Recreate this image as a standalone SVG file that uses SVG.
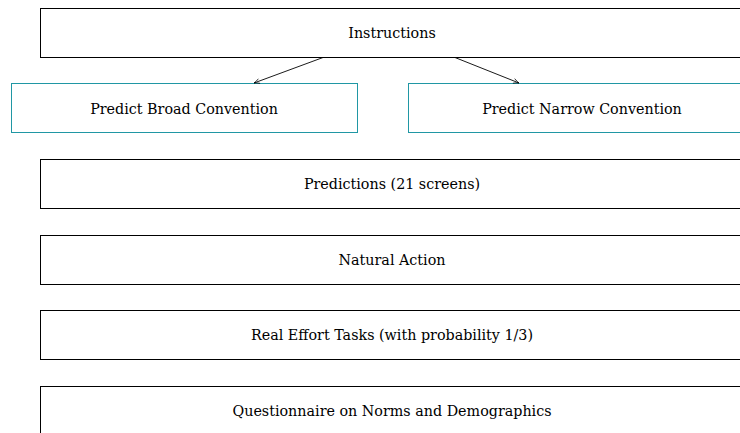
<svg xmlns="http://www.w3.org/2000/svg" width="740" height="433" viewBox="0 0 740 433">
<style>
.box{fill:#fff;stroke:#000;stroke-width:1}
.tbox{fill:#fff;stroke:#2097a4;stroke-width:1}
.lbl{font-family:'DejaVu Serif',serif;font-size:14.3px;fill:#000;text-anchor:middle}
.conn{stroke:#000;stroke-width:0.9;fill:none}
</style>
<defs>
<marker id="arr" viewBox="0 0 10 10" refX="9" refY="5" markerWidth="7" markerHeight="7" orient="auto" markerUnits="userSpaceOnUse">
<path d="M1,1.5 Q5,4 9,5 Q5,6 1,8.5" fill="none" stroke="#000" stroke-width="1"/>
</marker>
</defs>
<rect width="740" height="433" fill="#fff"/>
<g id="instructions"><rect class="box" x="40.5" y="8.5" width="704" height="49"/><text class="lbl" x="392" y="38">Instructions</text></g>
<g id="broad"><rect class="tbox" x="11.5" y="83.5" width="346" height="49"/><text class="lbl" x="184" y="114">Predict Broad Convention</text></g>
<g id="narrow"><rect class="tbox" x="408.5" y="83.5" width="348" height="49"/><text class="lbl" x="582" y="114">Predict Narrow Convention</text></g>
<g id="predictions"><rect class="box" x="40.5" y="159.5" width="704" height="49"/><text class="lbl" x="392" y="189">Predictions (21 screens)</text></g>
<g id="natural"><rect class="box" x="40.5" y="235.5" width="704" height="49"/><text class="lbl" x="392" y="265">Natural Action</text></g>
<g id="effort"><rect class="box" x="40.5" y="310.5" width="704" height="49"/><text class="lbl" x="392" y="340">Real Effort Tasks (with probability 1/3)</text></g>
<g id="questionnaire"><rect class="box" x="40.5" y="386.5" width="704" height="49"/><text class="lbl" x="392" y="416">Questionnaire on Norms and Demographics</text></g>
<g id="connectors">
<line class="conn" x1="323" y1="57.5" x2="254" y2="83" marker-end="url(#arr)"/>
<line class="conn" x1="455" y1="57.5" x2="519" y2="83" marker-end="url(#arr)"/>
</g>
</svg>
